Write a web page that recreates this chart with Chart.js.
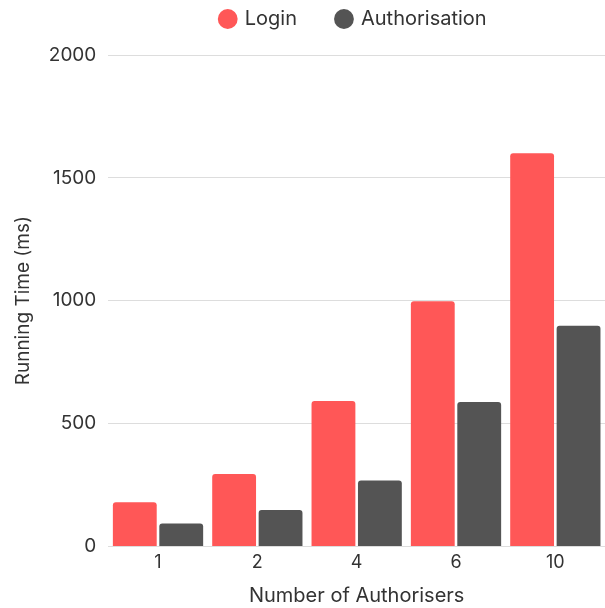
<!DOCTYPE html>
<html>
<head>
<meta charset="utf-8">
<script src="https://cdn.jsdelivr.net/npm/chart.js@4"></script>
<style>
html,body{margin:0;padding:0;background:#fff;}
#wrap{width:605px;height:608px;}
</style>
</head>
<body>
<div id="wrap"><canvas id="c" width="605" height="608"></canvas></div>
<script>
const categories = ["1", "2", "4", "6", "10"];
const loginTimes = [180, 295, 592, 998, 1600];
const authTimes = [93, 148, 268, 588, 898];
const seriesNames = ["Login", "Authorisation"];
const yTicks = [0, 500, 1000, 1500, 2000];

const FONT = "Inter, 'Open Sans', sans-serif";
const TXT = "#333333";

Chart.defaults.font.family = FONT;
Chart.defaults.color = TXT;

const legendSpacer = {
  id: "legendSpacer",
  beforeInit(chart) {
    const lg = chart.legend;
    if (!lg) return;
    const fit = lg.fit;
    lg.fit = function () { fit.call(this); this.height += 17; };
    const draw = lg.draw;
    lg.draw = function () {
      const ca = chart.chartArea;
      const dx = ca ? (ca.left + ca.right) / 2 - (this.left + this.right) / 2 - 3 : 0;
      const ctx = chart.ctx;
      ctx.save();
      ctx.translate(dx, 1);
      draw.call(this);
      ctx.restore();
    };
  }
};

new Chart(document.getElementById("c"), {
  type: "bar",
  data: {
    labels: categories,
    datasets: [
      { label: seriesNames[0], data: loginTimes, backgroundColor: "#FF5757", borderRadius: 3, borderSkipped: "bottom" },
      { label: seriesNames[1], data: authTimes, backgroundColor: "#545454", borderRadius: 3, borderSkipped: "bottom" }
    ]
  },
  plugins: [legendSpacer],
  options: {
    responsive: false,
    animation: false,
    layout: { padding: { left: 12, right: 0, top: -32, bottom: 0 } },
    datasets: { bar: { categoryPercentage: 0.935, barPercentage: 0.944 } },
    plugins: {
      legend: {
        position: "top",
        labels: {
          usePointStyle: true,
          pointStyle: "circle",
          boxWidth: 14,
          boxHeight: 14,
          padding: 40,
          font: { size: 20 },
          color: TXT
        }
      },
      tooltip: { enabled: false }
    },
    scales: {
      x: {
        grid: { display: false, drawTicks: false },
        border: { display: false },
        ticks: { font: { size: 18 }, color: TXT, padding: 5 },
        title: { display: true, text: "Number of Authorisers", font: { size: 20 }, color: TXT, padding: { top: 6, bottom: 0 } }
      },
      y: {
        min: 0,
        max: 2000,
        afterBuildTicks: (axis) => { axis.ticks = yTicks.map(v => ({ value: v })); },
        grid: { color: "#dddddd", drawTicks: false, lineWidth: 1 },
        border: { display: false },
        ticks: { font: { size: 19 }, color: TXT, padding: 12, callback: (v) => String(v) },
        title: { display: true, text: "Running Time (ms)", font: { size: 19 }, color: TXT, padding: { top: 0, bottom: 2 } }
      }
    }
  }
});
</script>
</body>
</html>
